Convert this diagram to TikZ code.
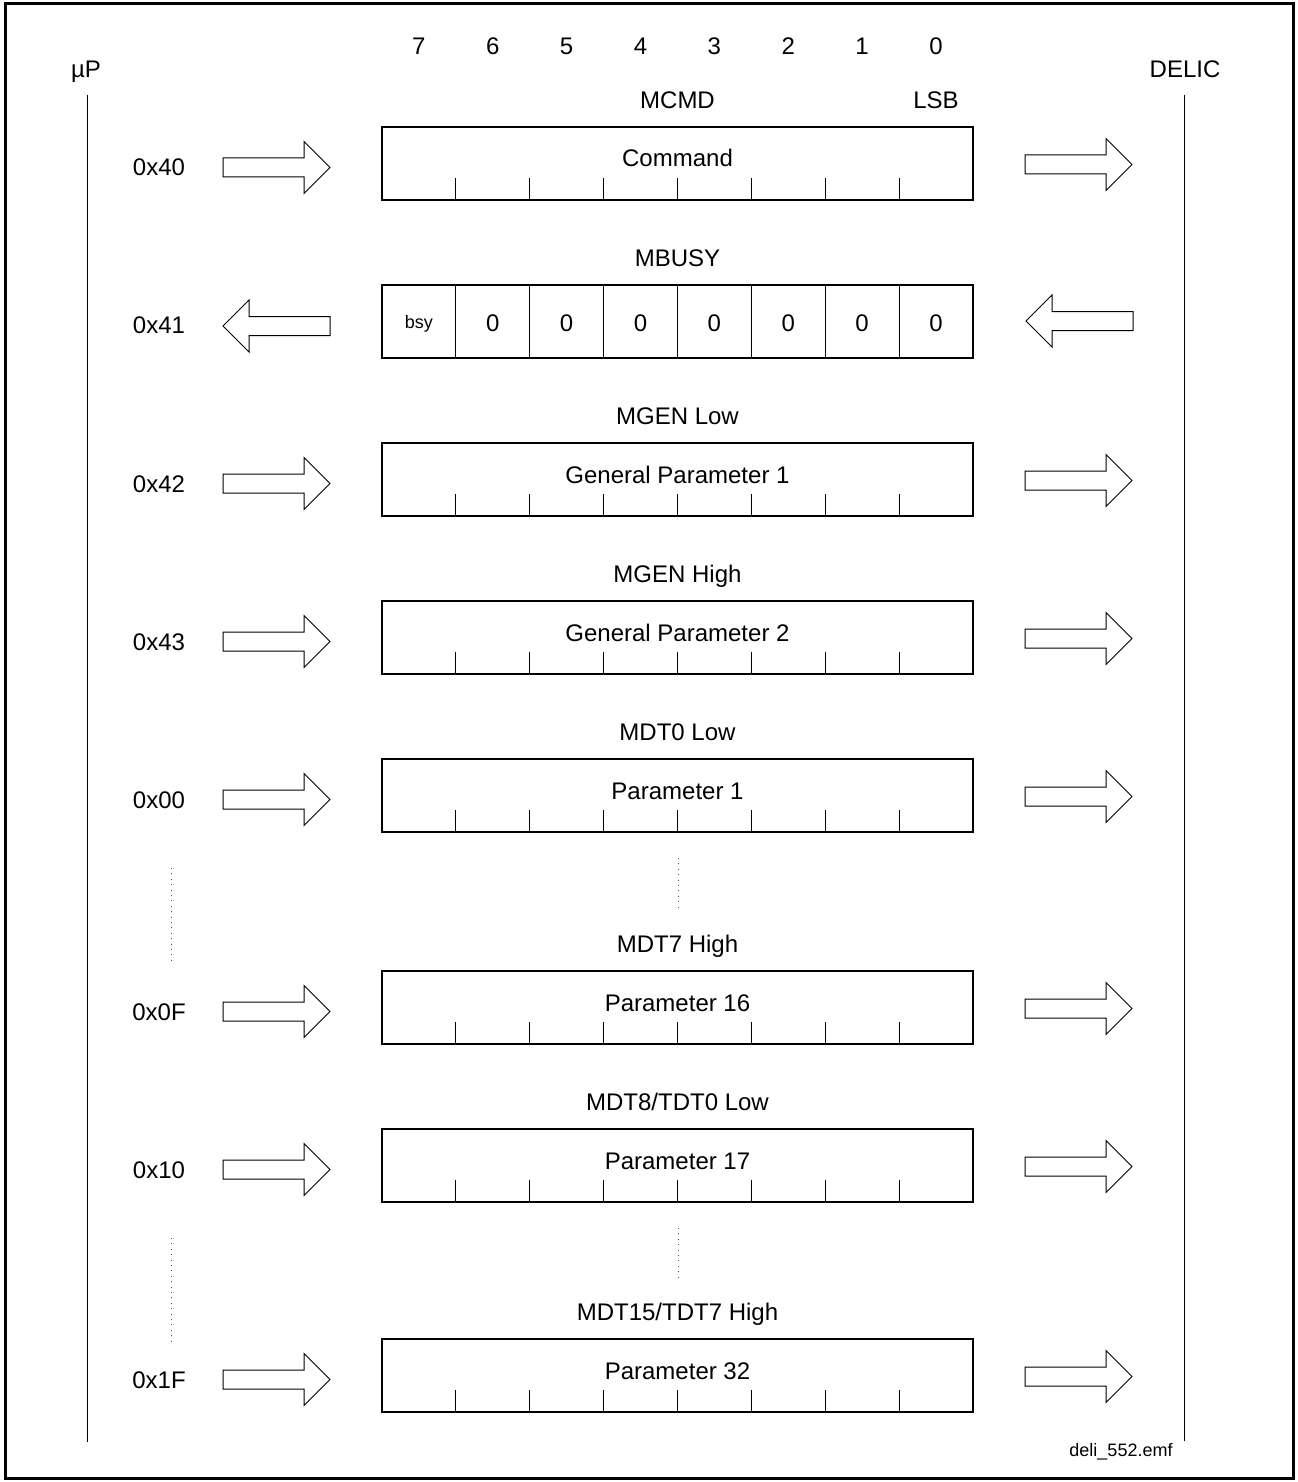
\documentclass[tikz,border=0pt]{standalone}
\usepackage{fontspec}
\setmainfont{Liberation Sans}
\usetikzlibrary{calc}

\begin{document}
\begin{tikzpicture}[x=0.5pt,y=-0.5pt,line width=0.6pt,
    font=\fontsize{12}{14}\selectfont,
    txt/.style={anchor=base,inner sep=0pt},
    small/.style={txt,font=\fontsize{9}{11}\selectfont},
    regbox/.style={draw,rectangle,minimum width=295.5pt,minimum height=36.5pt,inner sep=0pt},
    dots/.style={black!70,line width=0.5pt,dash pattern=on 0.5pt off 2.2pt},
    rarr/.pic={\draw[line width=0.5pt] (0,-9.5)--(81,-9.5)--(81,-26)--(107,0)--(81,26)--(81,9.5)--(0,9.5)--cycle;},
    larr/.pic={\draw[line width=0.5pt] (0,0)--(26,-26)--(26,-9.5)--(107,-9.5)--(107,9.5)--(26,9.5)--(26,26)--cycle;}]
  \useasboundingbox (0,0) rectangle (1297,1482);
  \draw[line width=1.5pt] (5,4) rectangle (1293,1478);
  % the two sides
  \node[txt] (up) at (86,77.5) {µP};
  \node[txt] (delic) at (1185,77.5) {DELIC};
  \coordinate (upA) at (87,95);  \coordinate (upB) at (87,1442);
  \coordinate (deA) at (1184,95); \coordinate (deB) at (1184,1441);
  \draw[line width=0.5pt] (upA)--(upB);
  \draw[line width=0.5pt] (deA)--(deB);
  % bit numbers
  \foreach \k in {0,...,7}{\pgfmathtruncatemacro\b{7-\k}
    \node[txt] (bit\b) at (418.9+73.875*\k,54.5) {\b};}
  \node[txt] (lsb) at (936,108.5) {LSB};
  % write registers
  \foreach \y/\i/\ttl/\val/\adr in {163.5/cmd/MCMD/Command/0x40,
      479.5/gl/MGEN Low/General Parameter 1/0x42,
      637.5/gh/MGEN High/General Parameter 2/0x43,
      795.5/dA/MDT0 Low/Parameter 1/0x00,
      1007.5/dB/MDT7 High/Parameter 16/0x0F,
      1165.5/dC/{MDT8/TDT0 Low}/Parameter 17/0x10,
      1375.5/dD/{MDT15/TDT7 High}/Parameter 32/0x1F}{
    \node[regbox] (r\i) at (677.5,\y) {};
    \node[txt] (t\i) at (677.5,\y-55) {\ttl};
    \node[txt] (v\i) at (677.5,\y+3.5) {\val};
    \node[txt] (a\i) at (159,\y+12.5) {\adr};
    \foreach \k in {1,...,7}{\draw (382+73.875*\k,\y+14.5)--(382+73.875*\k,\y+36.5);}
    \pic at (223,\y+4) {rarr};
    \pic at (1025,\y+1) {rarr};
  }
  % busy register
  \node[regbox] (rbsy) at (677.5,321.5) {};
  \node[txt] (tbsy) at (677.5,266.5) {MBUSY};
  \foreach \k in {1,...,7}{\draw (382+73.875*\k,285)--(382+73.875*\k,358);
    \node[txt] (z\k) at (418.9+73.875*\k,331.5) {0};}
  \node[small] (bsy) at (418.9,328) {bsy};
  \node[txt] (absy) at (159,333) {0x41};
  \pic at (223,326) {larr};
  \pic at (1026,321) {larr};
  % gaps
  \draw[dots] (171,868)--(171,965);
  \draw[dots] (171,1238)--(171,1341);
  \draw[dots] (678,858)--(678,908);
  \draw[dots] (678,1228)--(678,1277);
  \node[small] (fig) at (1121,1456) {deli\_552.emf};
\end{tikzpicture}
\end{document}
